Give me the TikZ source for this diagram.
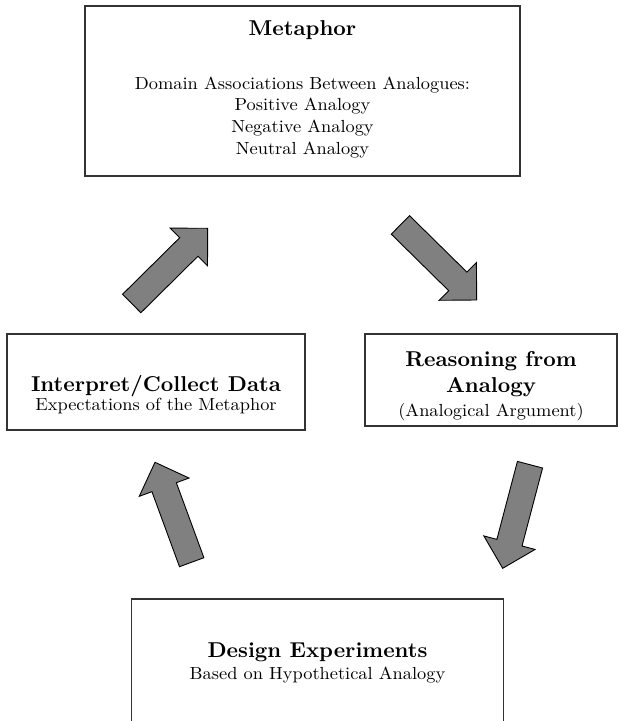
\documentclass[tikz,border=0pt]{standalone}
\usepackage{fontspec}
\setmainfont{lmroman10-regular.otf}[BoldFont=lmroman10-bold.otf, FakeStretch=1.05, BoldFeatures={FakeStretch=1.01}]
\usetikzlibrary{calc}

\tikzset{
  panel/.style={draw=black!80, line width=1.2pt, inner sep=0pt, outer sep=0pt, anchor=north west},
  headline/.style={anchor=base, inner sep=0pt, font=\fontsize{21.5}{26}\selectfont\bfseries},
  bodyline/.style={anchor=base, inner sep=0pt, font=\fontsize{17.5}{22}\selectfont},
  flowarrow/.style={fill=black!50, draw=black, line width=0.9pt, line join=miter},
}

% Block arrow from a tail midpoint (#1) to a tip (#2)
\newcommand{\blockarrow}[2]{%
  \coordinate (ba-h) at ($(#2)!26.5pt!(#1)$);
  \filldraw[flowarrow]
    ($(#1)!13pt!90:(#2)$) -- ($(ba-h)!13pt!90:(#2)$) -- ($(ba-h)!26.5pt!90:(#2)$)
    -- (#2)
    -- ($(ba-h)!26.5pt!-90:(#2)$) -- ($(ba-h)!13pt!-90:(#2)$) -- ($(#1)!13pt!-90:(#2)$)
    -- cycle;
}

\begin{document}
\begin{tikzpicture}[x=1pt, y=-1pt]
  \useasboundingbox (0,0) rectangle (618,721);
  \clip (0,0) rectangle (618,721);
  \fill[white] (0,0) rectangle (618,721);

  % boxes
  \node[panel, minimum width=435pt, minimum height=170pt] (meta) at (85,6) {};
  \node[panel, minimum width=298pt, minimum height=96pt] (interp) at (7,334) {};
  \node[panel, minimum width=252pt, minimum height=92pt] (reason) at (365,334) {};
  \node[panel, minimum width=372pt, minimum height=160pt] (design) at (131.5,599) {};

  % Metaphor
  \node[headline] (metaT) at (302.5,35.7) {Metaphor};
  \node[bodyline] (metaA) at (302.5,89) {Domain Associations Between Analogues:};
  \node[bodyline] (metaB) at (302.5,110.7) {Positive Analogy};
  \node[bodyline] (metaC) at (302.5,132.3) {Negative Analogy};
  \node[bodyline] (metaD) at (302.5,154.3) {Neutral Analogy};

  % Interpret / Collect Data
  \node[headline] (interpT) at (156,391.7) {Interpret/Collect Data};
  \node[bodyline] (interpA) at (156,410) {Expectations of the Metaphor};

  % Reasoning from Analogy
  \node[headline] (reasonT) at (491,366) {Reasoning from};
  \node[headline] (reasonU) at (491,392.7) {Analogy};
  \node[bodyline] (reasonA) at (491,416) {(Analogical Argument)};

  % Design Experiments
  \node[headline] (designT) at (317.5,657.3) {Design Experiments};
  \node[bodyline] (designA) at (317.5,679.3) {Based on Hypothetical Analogy};

  % cycle arrows
  \coordinate (a1s) at (131.7,303.5);  \coordinate (a1e) at (207.7,228.3);
  \coordinate (a2s) at (400.4,224.9);  \coordinate (a2e) at (476.7,300);
  \coordinate (a3s) at (530,464.7);    \coordinate (a3e) at (502.7,568.3);
  \coordinate (a4s) at (191.7,562.2);  \coordinate (a4e) at (155,462.3);
  \blockarrow{a1s}{a1e}
  \blockarrow{a2s}{a2e}
  \blockarrow{a3s}{a3e}
  \blockarrow{a4s}{a4e}
\end{tikzpicture}
\end{document}
